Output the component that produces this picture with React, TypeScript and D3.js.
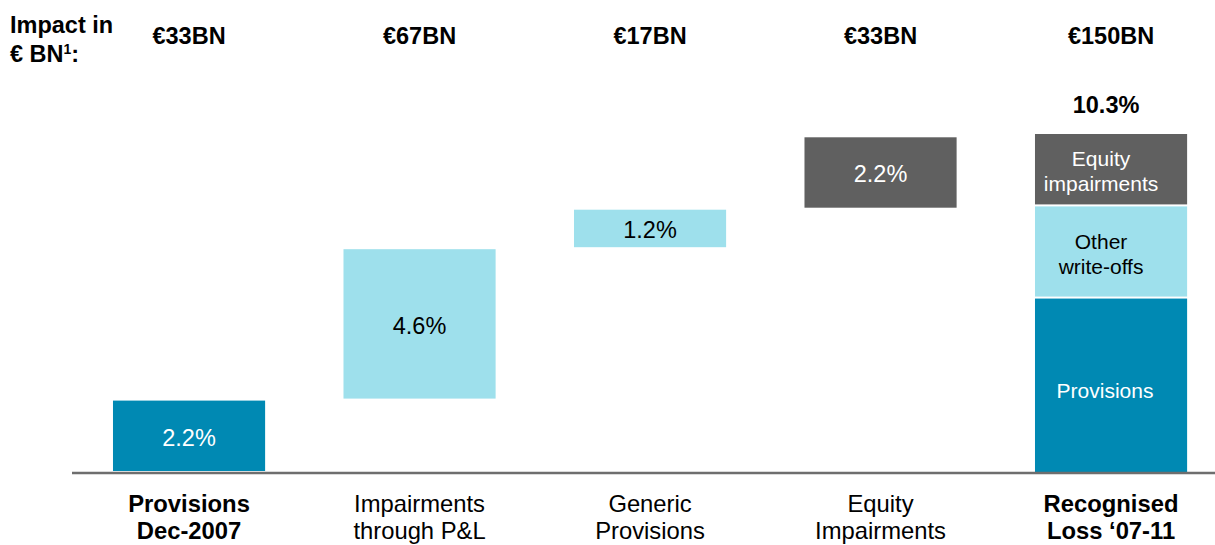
import React from "react";
import * as d3 from "d3";

const categories: string[][] = [
  ["Provisions", "Dec-2007"],
  ["Impairments", "through P&L"],
  ["Generic", "Provisions"],
  ["Equity", "Impairments"],
  ["Recognised", "Loss ‘07-11"],
];
const categoryBold: boolean[] = [true, false, false, false, true];
const impactLabels: string[] = ["€33BN", "€67BN", "€17BN", "€33BN", "€150BN"];
const stepValues: number[] = [2.2, 4.6, 1.2, 2.2];
const stepLabels: string[] = ["2.2%", "4.6%", "1.2%", "2.2%"];
const stepKinds: string[] = ["provisions", "writeoffs", "writeoffs", "equity"];
const stackLabels: string[][] = [["Provisions"], ["Other", "write-offs"], ["Equity", "impairments"]];
const stackValues: number[] = [5.3, 2.8, 2.2];
const stackKinds: string[] = ["provisions", "writeoffs", "equity"];
const totalValue = 10.3;
const totalLabel = "10.3%";

const COLORS: Record<string, string> = {
  provisions: "#0089B3",
  writeoffs: "#9EE0EC",
  equity: "#606060",
};
const TEXT_COLORS: Record<string, string> = {
  provisions: "#ffffff",
  writeoffs: "#000000",
  equity: "#ffffff",
};

const W = 1215;
const H = 545;
const FONT = "Arial, 'Liberation Sans', Helvetica, sans-serif";
const FS = 23.5;

export default function App() {
  const x = d3
    .scaleBand<number>()
    .domain(d3.range(categories.length))
    .range([73.8, 1226.3])
    .paddingInner(0.34)
    .paddingOuter(0.17);
  const y = d3.scaleLinear().domain([0, totalValue]).range([472, 133]);
  const bw = x.bandwidth();

  let cum = 0;
  const steps = stepValues.map((v, i) => {
    const s = { i, y0: cum, y1: cum + v, kind: stepKinds[i], label: stepLabels[i] };
    cum += v;
    return s;
  });
  let scum = 0;
  const stack = stackValues.map((v, i) => {
    const s = { y0: scum, y1: scum + v, kind: stackKinds[i], label: stackLabels[i] };
    scum += v;
    return s;
  });
  const last = categories.length - 1;
  const cap = 0.716 * FS;
  const SFS = 21;
  const scap = 0.716 * SFS;

  return (
    <div style={{ position: "absolute", left: 0, top: 0 }}>
      <svg width={W} height={H} style={{ display: "block", fontFamily: FONT }}>
        <rect width={W} height={H} fill="#fff" />
        <text x={10} y={33} fontSize={FS} fontWeight="bold" fill="#000">Impact in</text>
        <text x={10} y={62} fontSize={FS} fontWeight="bold" fill="#000">
          € BN<tspan fontSize={14} dy={-8}>1</tspan>
          <tspan dy={8}>:</tspan>
        </text>
        {impactLabels.map((t, i) => (
          <text key={"h" + i} x={x(i)! + bw / 2} y={44} fontSize={FS} fontWeight="bold" textAnchor="middle" fill="#000">
            {t}
          </text>
        ))}
        {steps.map((s) => {
          const top = y(s.y1) + 1;
          const bot = y(s.y0) - 1;
          return (
            <g key={"s" + s.i}>
              <rect x={x(s.i)!} y={top} width={bw} height={bot - top} fill={COLORS[s.kind]} />
              <text
                x={x(s.i)! + bw / 2}
                y={(top + bot) / 2 + cap / 2 + 1.5}
                fontSize={FS}
                textAnchor="middle"
                fill={TEXT_COLORS[s.kind]}
              >
                {s.label}
              </text>
            </g>
          );
        })}
        {stack.map((s, k) => {
          const top = y(s.y1) + 1;
          const bot = y(s.y0) - (k === 0 ? 0 : 1);
          const mid = (top + bot) / 2;
          const lh = 25;
          const n = s.label.length;
          return (
            <g key={"t" + k}>
              <rect x={x(last)!} y={top} width={bw} height={bot - top} fill={COLORS[s.kind]} />
              {s.label.map((l, j) => (
                <text
                  key={j}
                  x={x(last)! + bw / 2 - (n === 1 ? 6 : 10)}
                  y={mid + scap / 2 + (j - (n - 1) / 2) * lh + (n === 1 ? 5 : 2)}
                  fontSize={SFS}
                  textAnchor="middle"
                  fill={TEXT_COLORS[s.kind]}
                >
                  {l}
                </text>
              ))}
            </g>
          );
        })}
        <text x={x(last)! + bw / 2 - 5} y={113} fontSize={FS} fontWeight="bold" textAnchor="middle" fill="#000">
          {totalLabel}
        </text>
        <line x1={72} x2={W} y1={y(0) + 1} y2={y(0) + 1} stroke="#6e6e6e" strokeWidth={2.5} />
        {categories.map((lines, i) =>
          lines.map((l, j) => (
            <text
              key={"c" + i + "-" + j}
              x={x(i)! + bw / 2}
              y={512 + j * 27}
              fontSize={23.8}
              fontWeight={categoryBold[i] ? "bold" : "normal"}
              textAnchor="middle"
              fill="#000"
            >
              {l}
            </text>
          ))
        )}
      </svg>
    </div>
  );
}
